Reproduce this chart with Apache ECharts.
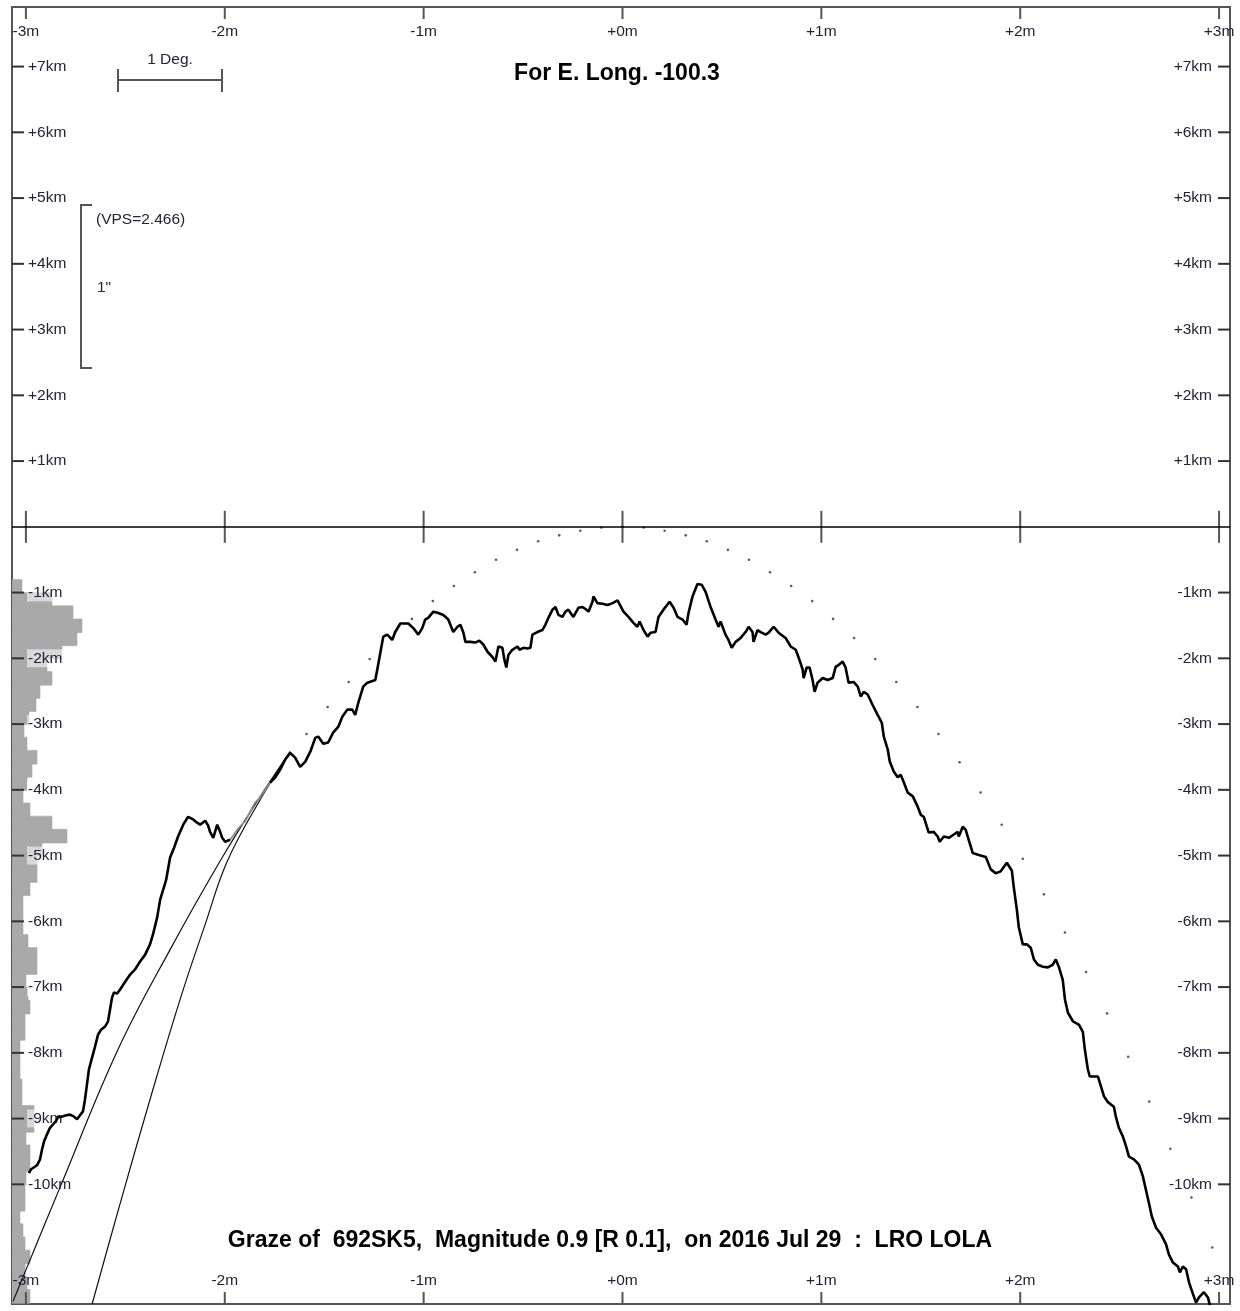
<!DOCTYPE html>
<html><head><meta charset="utf-8">
<script src="https://cdn.jsdelivr.net/npm/echarts@6/dist/echarts.min.js"></script>
<style>html,body{margin:0;padding:0;background:#fff}#c{width:1240px;height:1311px}</style>
</head><body><div id="c"></div>
<script>
// ---------- data ----------
const xTickValues = [-3, -2, -1, 0, 1, 2, 3];
const xTickLabels = ['-3m', '-2m', '-1m', '+0m', '+1m', '+2m', '+3m'];
const yTickValues = [7, 6, 5, 4, 3, 2, 1, -1, -2, -3, -4, -5, -6, -7, -8, -9, -10];
const yTickLabels = ['+7km', '+6km', '+5km', '+4km', '+3km', '+2km', '+1km', '-1km', '-2km', '-3km', '-4km', '-5km', '-6km', '-7km', '-8km', '-9km', '-10km'];

// limb profile (minutes of arc, km)
const profileLeft = [
  [-2.985,-9.83],[-2.974,-9.77],[-2.959,-9.74],[-2.944,-9.71],[-2.929,-9.62],[-2.919,-9.47],[-2.909,-9.35],
  [-2.894,-9.24],[-2.879,-9.14],[-2.864,-9.09],[-2.849,-9.04],[-2.839,-8.98],[-2.818,-8.97],[-2.798,-8.95],
  [-2.778,-8.94],[-2.758,-8.97],[-2.743,-9.01],[-2.728,-8.95],[-2.713,-8.89],[-2.703,-8.71],[-2.693,-8.48],
  [-2.683,-8.25],[-2.667,-8.07],[-2.652,-7.90],[-2.637,-7.72],[-2.622,-7.65],[-2.602,-7.60],[-2.587,-7.52],
  [-2.577,-7.34],[-2.567,-7.16],[-2.557,-7.08],[-2.542,-7.10],[-2.527,-7.04],[-2.501,-6.92],[-2.476,-6.81],
  [-2.451,-6.73],[-2.426,-6.61],[-2.401,-6.51],[-2.376,-6.35],[-2.361,-6.20],[-2.340,-5.94],[-2.325,-5.67],
  [-2.310,-5.52],[-2.295,-5.37],[-2.275,-5.03],[-2.255,-4.88],[-2.235,-4.71],[-2.209,-4.53],[-2.184,-4.41],
  [-2.159,-4.45],[-2.139,-4.50],[-2.124,-4.53],[-2.099,-4.47],[-2.084,-4.54],[-2.074,-4.64],[-2.058,-4.73],
  [-2.038,-4.53],[-2.023,-4.64],[-2.013,-4.73],[-1.998,-4.79],[-1.988,-4.80],[-1.973,-4.76]
];
const profileHidden = [
  [-1.973,-4.76],[-1.958,-4.70],[-1.938,-4.61],[-1.918,-4.54],[-1.897,-4.48],[-1.872,-4.33],[-1.847,-4.19],
  [-1.822,-4.12],[-1.797,-4.00],[-1.772,-3.89]
];
const profileRight = [
  [-1.772,-3.89],[-1.746,-3.81],[-1.721,-3.69],[-1.696,-3.54],[-1.671,-3.44],[-1.646,-3.51],[-1.621,-3.65],
  [-1.595,-3.57],[-1.570,-3.42],[-1.545,-3.21],[-1.530,-3.19],[-1.505,-3.30],[-1.480,-3.28],[-1.455,-3.13],
  [-1.429,-3.04],[-1.409,-2.89],[-1.384,-2.78],[-1.359,-2.78],[-1.344,-2.86],[-1.329,-2.68],[-1.304,-2.43],
  [-1.283,-2.37],[-1.243,-2.33],[-1.233,-2.17],[-1.218,-1.92],[-1.203,-1.67],[-1.183,-1.64],[-1.158,-1.72],
  [-1.143,-1.60],[-1.117,-1.47],[-1.077,-1.47],[-1.052,-1.54],[-1.027,-1.64],[-1.007,-1.54],[-0.992,-1.41],
  [-0.976,-1.38],[-0.951,-1.29],[-0.926,-1.31],[-0.901,-1.34],[-0.876,-1.41],[-0.851,-1.60],[-0.830,-1.52],
  [-0.815,-1.49],[-0.800,-1.61],[-0.790,-1.75],[-0.765,-1.75],[-0.740,-1.76],[-0.720,-1.73],[-0.700,-1.79],
  [-0.679,-1.90],[-0.654,-1.98],[-0.639,-2.05],[-0.624,-1.82],[-0.604,-1.84],[-0.594,-2.02],[-0.584,-2.14],
  [-0.574,-1.95],[-0.554,-1.87],[-0.528,-1.82],[-0.518,-1.87],[-0.498,-1.84],[-0.478,-1.85],[-0.463,-1.84],
  [-0.453,-1.64],[-0.428,-1.60],[-0.403,-1.57],[-0.388,-1.49],[-0.372,-1.38],[-0.352,-1.26],[-0.337,-1.22],
  [-0.322,-1.34],[-0.302,-1.37],[-0.287,-1.29],[-0.272,-1.26],[-0.247,-1.37],[-0.221,-1.23],[-0.201,-1.22],
  [-0.186,-1.25],[-0.171,-1.29],[-0.151,-1.14],[-0.146,-1.06],[-0.126,-1.16],[-0.101,-1.17],[-0.075,-1.19],
  [-0.050,-1.16],[-0.025,-1.12],[-0.015,-1.14],[0.005,-1.29],[0.030,-1.37],[0.055,-1.46],[0.075,-1.52],
  [0.086,-1.44],[0.106,-1.57],[0.126,-1.67],[0.141,-1.61],[0.166,-1.60],[0.181,-1.37],[0.206,-1.26],
  [0.237,-1.14],[0.257,-1.23],[0.277,-1.37],[0.302,-1.41],[0.322,-1.49],[0.332,-1.31],[0.352,-1.06],
  [0.377,-0.87],[0.398,-0.88],[0.418,-0.99],[0.443,-1.22],[0.468,-1.41],[0.483,-1.52],[0.493,-1.44],
  [0.503,-1.46],[0.518,-1.64],[0.533,-1.72],[0.549,-1.84],[0.569,-1.75],[0.594,-1.69],[0.619,-1.60],
  [0.634,-1.52],[0.654,-1.60],[0.659,-1.75],[0.679,-1.57],[0.695,-1.60],[0.720,-1.64],[0.735,-1.61],
  [0.760,-1.52],[0.785,-1.61],[0.820,-1.69],[0.846,-1.82],[0.871,-1.87],[0.886,-1.99],[0.906,-2.17],
  [0.911,-2.30],[0.926,-2.14],[0.941,-2.14],[0.956,-2.33],[0.966,-2.51],[0.981,-2.37],[1.007,-2.30],
  [1.032,-2.33],[1.057,-2.30],[1.072,-2.13],[1.087,-2.10],[1.107,-2.05],[1.122,-2.14],[1.137,-2.37],
  [1.163,-2.36],[1.183,-2.43],[1.198,-2.58],[1.213,-2.51],[1.233,-2.55],[1.258,-2.71],[1.283,-2.86],
  [1.304,-2.98],[1.314,-3.19],[1.334,-3.39],[1.344,-3.57],[1.364,-3.72],[1.384,-3.81],[1.399,-3.77],
  [1.414,-3.88],[1.434,-4.04],[1.460,-4.10],[1.485,-4.26],[1.500,-4.38],[1.515,-4.41],[1.540,-4.65],
  [1.565,-4.64],[1.585,-4.71],[1.595,-4.79],[1.616,-4.71],[1.641,-4.73],[1.666,-4.68],[1.686,-4.64],
  [1.691,-4.71],[1.711,-4.56],[1.726,-4.61],[1.741,-4.76],[1.761,-4.96],[1.792,-4.99],[1.827,-5.02],
  [1.852,-5.21],[1.877,-5.27],[1.902,-5.24],[1.933,-5.11],[1.958,-5.23],[1.968,-5.49],[1.983,-5.82],
  [1.993,-6.09],[2.013,-6.35],[2.033,-6.35],[2.053,-6.40],[2.069,-6.58],[2.089,-6.66],[2.114,-6.69],
  [2.139,-6.70],[2.164,-6.66],[2.179,-6.58],[2.194,-6.69],[2.214,-6.89],[2.225,-7.19],[2.240,-7.39],
  [2.265,-7.52],[2.295,-7.57],[2.315,-7.68],[2.325,-7.95],[2.340,-8.25],[2.350,-8.36],[2.391,-8.36],
  [2.406,-8.51],[2.421,-8.66],[2.441,-8.75],[2.471,-8.82],[2.481,-8.97],[2.496,-9.14],[2.516,-9.27],
  [2.532,-9.42],[2.547,-9.58],[2.572,-9.62],[2.597,-9.70],[2.617,-9.88],[2.632,-10.08],[2.647,-10.28],
  [2.662,-10.49],[2.683,-10.66],[2.708,-10.76],[2.733,-10.91],[2.748,-11.07],[2.768,-11.19],[2.793,-11.25],
  [2.803,-11.34],[2.818,-11.25],[2.834,-11.29],[2.849,-11.49],[2.869,-11.67],[2.884,-11.80],[2.899,-11.72],
  [2.924,-11.64],[2.944,-11.72],[2.954,-11.84]
];
// two thin curves meeting the profile
const curveA = [[-3.065,-11.78],[-2.829,-10.05],[-2.537,-7.95],[-2.275,-6.43],[-2.013,-5.03],[-1.832,-4.15],[-1.671,-3.42]];
const curveB = [[-2.667,-11.82],[-2.527,-10.30],[-2.376,-8.71],[-2.225,-7.19],[-2.099,-6.05],[-1.988,-5.09],[-1.822,-4.15],[-1.671,-3.42]];
// mean limb dots
const meanLimb = [
  [-1.589,-3.15],[-1.483,-2.74],[-1.377,-2.36],[-1.271,-2.01],[-1.165,-1.69],[-1.059,-1.40],[-0.954,-1.13],
  [-0.848,-0.90],[-0.742,-0.69],[-0.636,-0.50],[-0.530,-0.35],[-0.424,-0.22],[-0.318,-0.13],[-0.212,-0.06],
  [-0.106,-0.01],[0,0],[0.106,-0.01],[0.212,-0.06],[0.318,-0.13],[0.424,-0.22],[0.530,-0.35],[0.636,-0.50],
  [0.742,-0.69],[0.848,-0.90],[0.954,-1.13],[1.059,-1.40],[1.165,-1.69],[1.271,-2.01],[1.377,-2.36],
  [1.483,-2.74],[1.589,-3.15],[1.695,-3.58],[1.801,-4.04],[1.907,-4.53],[2.013,-5.05],[2.119,-5.59],
  [2.225,-6.17],[2.331,-6.77],[2.437,-7.40],[2.543,-8.06],[2.649,-8.74],[2.755,-9.46],[2.861,-10.20],[2.966,-10.96]
];
// height histogram (bin upper edge km, relative frequency)
const histBinTop = [-0.8,-1.0,-1.2,-1.4,-1.6,-1.8,-2.0,-2.2,-2.4,-2.6,-2.8,-3.0,-3.2,-3.4,-3.6,-3.8,-4.0,-4.2,-4.4,
  -4.6,-4.8,-5.0,-5.2,-5.4,-5.6,-5.8,-6.0,-6.2,-6.4,-6.6,-6.8,-7.0,-7.2,-7.4,-7.6,-7.8,-8.0,-8.2,-8.4,-8.6,-8.8,
  -9.0,-9.2,-9.4,-9.6,-9.8,-10.0,-10.2,-10.4,-10.6,-10.8,-11.0,-11.2,-11.4,-11.6];
const histCount = [10,40,61,70,65,50,35,40,28,24,17,12,15,25,20,15,11,18,40,55,30,25,25,18,11,11,11,16,25,25,
  14,16,18,13,13,8,8,8,10,10,22,22,14,18,18,14,13,13,8,11,13,18,13,15,18];
const HIST_BIN = 0.2;

const titleText = 'For E. Long. -100.3';
const footerText = 'Graze of  692SK5,  Magnitude 0.9 [R 0.1],  on 2016 Jul 29  :  LRO LOLA';
const scaleText = '1 Deg.';
const vpsText = '(VPS=2.466)';
const arcText = '1"';

// ---------- layout ----------
const X_MIN = -3.07, X_MAX = 3.055, Y_MIN = -11.82, Y_MAX = 7.906;
const FONT = '"Liberation Sans", Arial, sans-serif';
const FS = 15.5;
const TXT = '#22223a';
const TICK = '#555';

const chart = echarts.init(document.getElementById('c'), null, {renderer: 'canvas'});

function renderXTick(params, api) {
  const v = api.value(0), i = api.value(1);
  const top = api.coord([v, Y_MAX]), bot = api.coord([v, Y_MIN]), z = api.coord([v, 0]);
  const lbl = xTickLabels[i];
  const ts = {fontSize: FS, fontFamily: FONT, fill: TXT, align: 'center', verticalAlign: 'middle'};
  return {type: 'group', children: [
    {type: 'line', shape: {x1: top[0], y1: top[1], x2: top[0], y2: top[1] + 12}, style: {stroke: TICK, lineWidth: 2}},
    {type: 'text', style: Object.assign({text: lbl, x: top[0], y: top[1] + 25}, ts)},
    {type: 'line', shape: {x1: bot[0], y1: bot[1], x2: bot[0], y2: bot[1] - 12}, style: {stroke: TICK, lineWidth: 2}},
    {type: 'text', style: Object.assign({text: lbl, x: bot[0], y: bot[1] - 23}, ts)},
    {type: 'line', shape: {x1: z[0], y1: z[1] - 16, x2: z[0], y2: z[1] + 16}, style: {stroke: TICK, lineWidth: 2}}
  ]};
}
function renderYTick(params, api) {
  const v = api.value(0), i = api.value(1);
  const l = api.coord([X_MIN, v]), r = api.coord([X_MAX, v]);
  const lbl = yTickLabels[i];
  return {type: 'group', children: [
    {type: 'line', shape: {x1: l[0], y1: l[1], x2: l[0] + 12, y2: l[1]}, style: {stroke: '#333', lineWidth: 2}},
    {type: 'text', style: {text: lbl, x: l[0] + 15, y: l[1], align: 'left', verticalAlign: 'middle',
      fontSize: FS, fontFamily: FONT, fill: TXT, backgroundColor: 'rgba(255,255,255,0.55)', padding: [1, 1]}},
    {type: 'line', shape: {x1: r[0] - 12, y1: r[1], x2: r[0], y2: r[1]}, style: {stroke: '#333', lineWidth: 2}},
    {type: 'text', style: {text: lbl, x: r[0] - 18, y: r[1], align: 'right', verticalAlign: 'middle',
      fontSize: FS, fontFamily: FONT, fill: TXT}}
  ]};
}
function renderHist(params, api) {
  const t = api.value(0), w = api.value(1);
  const p1 = api.coord([0, t]), p2 = api.coord([w, t - HIST_BIN]);
  return {type: 'rect', shape: {x: p1[0], y: p1[1], width: p2[0] - p1[0], height: p2[1] - p1[1] + 0.6},
    style: {fill: '#a9a9a9', stroke: '#a9a9a9', lineWidth: 0.6}};
}

const option = {
  animation: false,
  backgroundColor: '#fff',
  grid: {left: 12, top: 7, width: 1218, height: 1297, show: true, borderColor: '#555', borderWidth: 2, backgroundColor: 'transparent'},
  xAxis: [
    {type: 'value', min: X_MIN, max: X_MAX, show: false},
    {type: 'value', min: 0, max: 1218, show: false}
  ],
  yAxis: [{type: 'value', min: Y_MIN, max: Y_MAX, show: false}],
  graphic: [
    {type: 'text', z: 10, style: {text: titleText, x: 617, y: 74, align: 'center', verticalAlign: 'middle',
      fontSize: 23, fontWeight: 'bold', fontFamily: FONT, fill: '#000'}},
    {type: 'text', z: 10, style: {text: footerText, x: 610, y: 1241, align: 'center', verticalAlign: 'middle',
      fontSize: 23, fontWeight: 'bold', fontFamily: FONT, fill: '#000'}},
    {type: 'text', z: 10, style: {text: scaleText, x: 170, y: 60, align: 'center', verticalAlign: 'middle',
      fontSize: FS, fontFamily: FONT, fill: TXT}},
    {type: 'polyline', z: 10, shape: {points: [[118, 69], [118, 92]]}, style: {stroke: TICK, lineWidth: 2}},
    {type: 'polyline', z: 10, shape: {points: [[222, 69], [222, 92]]}, style: {stroke: TICK, lineWidth: 2}},
    {type: 'polyline', z: 10, shape: {points: [[118, 80], [222, 80]]}, style: {stroke: TICK, lineWidth: 2}},
    {type: 'polyline', z: 10, shape: {points: [[92, 205], [81, 205], [81, 368], [92, 368]]}, style: {stroke: TICK, lineWidth: 2, fill: null}},
    {type: 'text', z: 10, style: {text: vpsText, x: 96, y: 220, align: 'left', verticalAlign: 'middle',
      fontSize: FS, fontFamily: FONT, fill: TXT}},
    {type: 'text', z: 10, style: {text: arcText, x: 97, y: 288, align: 'left', verticalAlign: 'middle',
      fontSize: FS, fontFamily: FONT, fill: TXT}}
  ],
  series: [
    {type: 'custom', name: 'hist', xAxisIndex: 1, yAxisIndex: 0, z: 1, silent: true,
      data: histBinTop.map((t, i) => [t, histCount[i]]), renderItem: renderHist, clip: true},
    {type: 'custom', name: 'yticks', xAxisIndex: 0, yAxisIndex: 0, z: 2, silent: true,
      data: yTickValues.map((v, i) => [v, i]), renderItem: renderYTick},
    {type: 'custom', name: 'xticks', xAxisIndex: 0, yAxisIndex: 0, z: 2, silent: true,
      data: xTickValues.map((v, i) => [v, i]), renderItem: renderXTick,
      markLine: {silent: true, symbol: 'none', label: {show: false}, lineStyle: {color: '#000', width: 1.5, type: 'solid'},
        data: [{yAxis: 0}]}},
    {type: 'line', name: 'curveA', data: curveA, smooth: 0.4, showSymbol: false, z: 3,
      lineStyle: {color: '#111', width: 1.2}},
    {type: 'line', name: 'curveB', data: curveB, smooth: 0.4, showSymbol: false, z: 3,
      lineStyle: {color: '#111', width: 1.2}},
    {type: 'scatter', name: 'meanLimb', data: meanLimb, symbol: 'circle', symbolSize: 2.6, z: 3,
      itemStyle: {color: '#333'}},
    {type: 'line', name: 'profileHidden', data: profileHidden, showSymbol: false, z: 4,
      lineStyle: {color: '#8c8c8c', width: 1.8}},
    {type: 'line', name: 'profileLeft', data: profileLeft, showSymbol: false, z: 5,
      lineStyle: {color: '#000', width: 2.6}},
    {type: 'line', name: 'profileRight', data: profileRight, showSymbol: false, z: 5, clip: true,
      lineStyle: {color: '#000', width: 2.6}}
  ]
};
chart.setOption(option);
</script>
</body></html>
